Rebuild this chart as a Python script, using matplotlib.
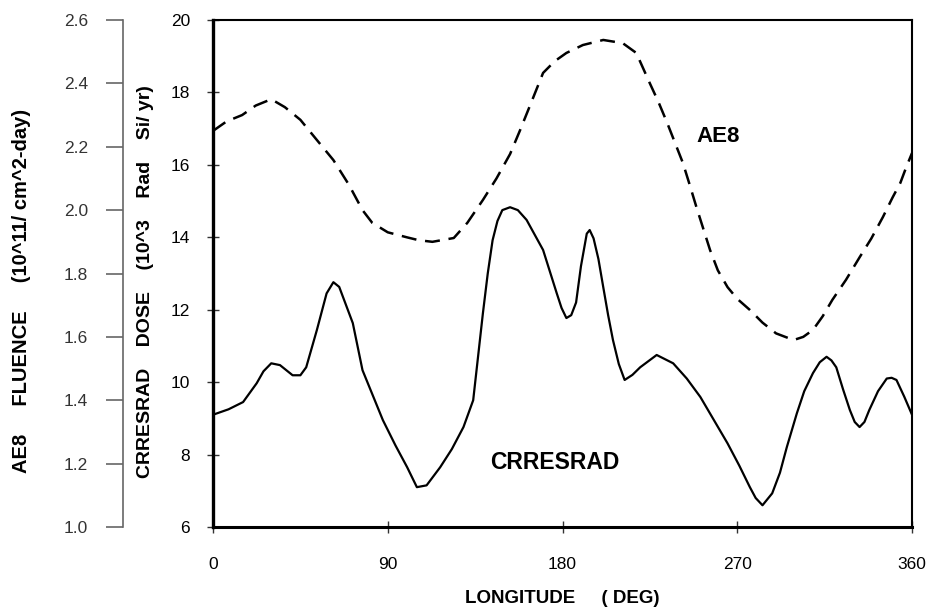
import matplotlib
matplotlib.use("Agg")
import matplotlib.pyplot as plt

# longitude (deg) and CRRESRAD dose (10^3 Rad Si/yr)
crres_lon = [0, 8, 15.5, 22.5, 26, 30, 34.5, 41, 45, 48, 53.5, 58.5, 62, 65, 72, 77,
             87.5, 94, 100, 105, 110, 117, 123, 129, 134, 139, 141.5, 144, 146.5, 149,
             153, 157, 161.5, 170, 177, 179.5, 182, 184.5, 187, 189.5, 192.5, 194, 196,
             198.5, 201, 203.5, 206, 209, 212, 216, 220, 228.5, 237, 244, 251, 258, 265,
             271, 276.5, 279.5, 283, 288, 292, 295.5, 300.7, 304.5, 309, 312.5, 316,
             318.5, 321, 324.5, 328, 330.5, 333, 335.5, 338, 342.5, 347, 349.5, 352,
             356, 360]
crres_dose = [9.1, 9.25, 9.45, 9.97, 10.3, 10.52, 10.47, 10.19, 10.19, 10.41, 11.44,
              12.45, 12.76, 12.63, 11.63, 10.33, 8.95, 8.25, 7.65, 7.1, 7.15, 7.65, 8.15,
              8.76, 9.5, 11.9, 13.0, 13.92, 14.45, 14.75, 14.83, 14.75, 14.48, 13.65,
              12.46, 12.05, 11.77, 11.85, 12.2, 13.2, 14.1, 14.2, 13.97, 13.4, 12.62,
              11.85, 11.16, 10.5, 10.06, 10.2, 10.41, 10.75, 10.52, 10.1, 9.59, 8.95,
              8.31, 7.7, 7.1, 6.8, 6.6, 6.93, 7.5, 8.2, 9.14, 9.75, 10.25, 10.55, 10.7,
              10.6, 10.41, 9.8, 9.23, 8.9, 8.76, 8.9, 9.23, 9.75, 10.1, 10.12, 10.06,
              9.6, 9.1]

# longitude (deg) and AE8 fluence (10^11 / cm^2-day)
ae8_lon = [0, 7, 15, 22, 30, 37, 45, 53, 62, 70, 77, 82, 90, 100, 106, 113, 124, 131,
           139, 146, 153, 158, 163, 170, 176, 182, 190.5, 201, 211, 218, 225, 229.5,
           234, 242, 245.5, 249, 256, 260, 265, 270, 276.5, 283, 290, 299, 304, 309,
           314, 319, 326, 333, 339, 345, 350, 354, 357, 360]
ae8_flu = [2.25, 2.28, 2.30, 2.33, 2.35, 2.325, 2.285, 2.225, 2.158, 2.08, 2.0, 1.96,
           1.93, 1.914, 1.905, 1.90, 1.912, 1.96, 2.032, 2.10, 2.177, 2.25, 2.326,
           2.433, 2.47, 2.496, 2.521, 2.537, 2.527, 2.496, 2.40, 2.34, 2.274, 2.149,
           2.08, 2.009, 1.874, 1.81, 1.757, 1.72, 1.685, 1.645, 1.611, 1.59, 1.60,
           1.622, 1.665, 1.717, 1.78, 1.851, 1.91, 1.978, 2.04, 2.086, 2.135, 2.18]

dose_ticks = [6, 8, 10, 12, 14, 16, 18, 20]
flu_ticks = [1.0, 1.2, 1.4, 1.6, 1.8, 2.0, 2.2, 2.4, 2.6]
lon_ticks = [0, 90, 180, 270, 360]

tick_font = "Liberation Sans"
lab_font = "Liberation Sans"

fig = plt.figure(figsize=(9.34, 6.14), dpi=100)
ax = fig.add_axes([213 / 934, 87 / 614, 699 / 934, 507 / 614])

ax.plot(crres_lon, crres_dose, color="black", lw=1.6, solid_joinstyle="round")
ax.set_xlim(0, 360)
ax.set_ylim(6, 20)
ax.set_xticks(lon_ticks)
ax.set_yticks(dose_ticks)
ax.tick_params(direction="inout", length=9, width=1, color="#333333", labelsize=12.5)
ax.tick_params(axis="x", pad=17)
ax.tick_params(axis="y", pad=12)
for lab in ax.get_xticklabels() + ax.get_yticklabels():
    lab.set_fontfamily(tick_font)
ax.spines["left"].set_linewidth(2.4)
ax.spines["bottom"].set_linewidth(2.2)
ax.spines["top"].set_linewidth(1.5)
ax.spines["right"].set_linewidth(1.5)
ax.set_xlabel("LONGITUDE     ( DEG)", fontfamily=lab_font, fontweight="bold",
              fontsize=13.5, labelpad=13)

# AE8 fluence on its own axis, offset to the left
ax2 = ax.twinx()
ax2.plot(ae8_lon, ae8_flu, color="black", lw=1.8, dashes=(6, 3.5))
ax2.set_ylim(1.0, 2.6)
ax2.set_yticks(flu_ticks)
ax2.spines["left"].set_position(("outward", 65))
ax2.spines["left"].set_visible(True)
ax2.spines["left"].set_color("#666666")
ax2.spines["left"].set_linewidth(1.2)
ax2.spines["right"].set_visible(False)
ax2.spines["top"].set_visible(False)
ax2.spines["bottom"].set_visible(False)
ax2.yaxis.set_ticks_position("left")
ax2.tick_params(axis="y", direction="out", length=12, width=1.2, color="#666666",
                pad=13, labelsize=12.5, labelcolor="#333333")
ax2.set_yticklabels(["%.1f" % t for t in flu_ticks])
for lab in ax2.get_yticklabels():
    lab.set_fontfamily(tick_font)

ax.text(249, 16.77, "AE8", fontfamily=tick_font, fontweight="bold", fontsize=16,
        va="center")
ax.text(142.6, 7.79, "CRRESRAD", fontfamily=tick_font, fontweight="bold", fontsize=16.5,
        va="center")

fig.text(22 / 934, 1 - 291 / 614, "AE8     FLUENCE     (10^11/ cm^2-day)",
         rotation=90, ha="center", va="center", fontfamily=lab_font,
         fontweight="bold", fontsize=14.5)
fig.text(145 / 934, 1 - 282 / 614, "CRRESRAD    DOSE    (10^3    Rad    Si/ yr)",
         rotation=90, ha="center", va="center", fontfamily=lab_font,
         fontweight="bold", fontsize=14)

fig.savefig("out.png", dpi=100)
